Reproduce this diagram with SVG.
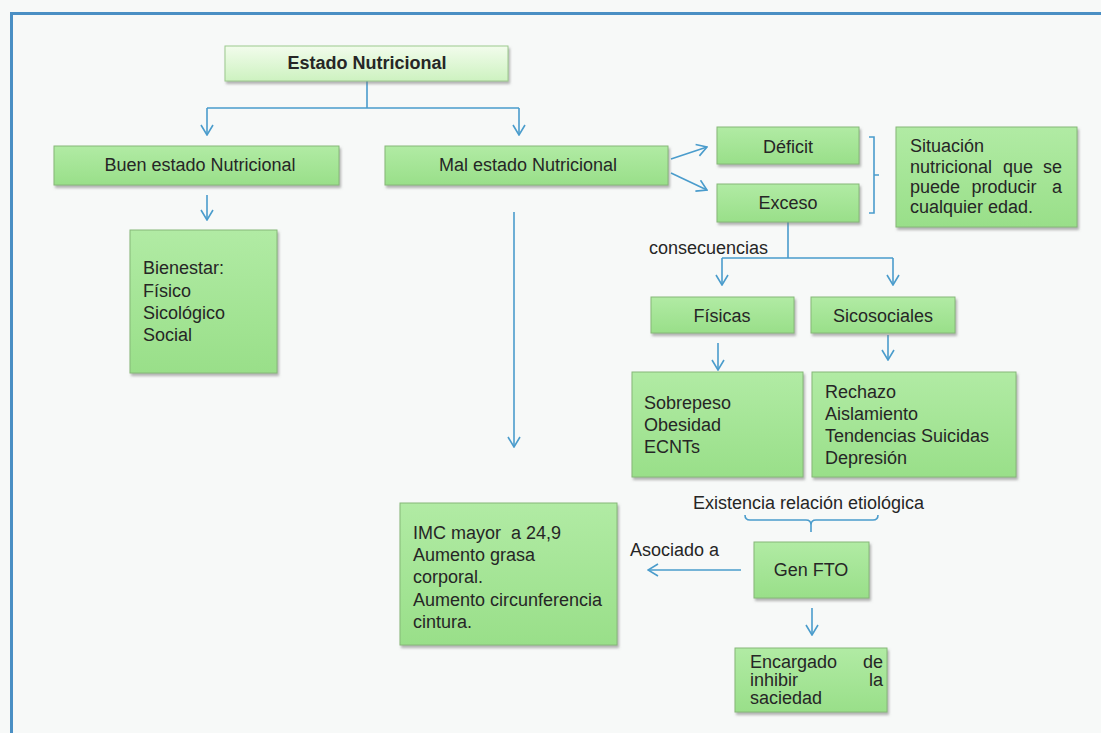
<svg xmlns="http://www.w3.org/2000/svg" width="1101" height="733" viewBox="0 0 1101 733">
<style>
  text { font-family: "Liberation Sans", Arial, sans-serif; font-size: 18px; fill: #262626; white-space: pre; }
  .c { text-anchor: middle; }
  .e { text-anchor: end; }
  .b { font-weight: bold; }
  .box { fill: url(#g); stroke: #86b878; stroke-width: 1; filter: url(#sh); }
  .top { fill: url(#g2); stroke: #9cc98e; stroke-width: 1; filter: url(#sh); }
  .ln { fill: none; stroke: #4a9ccc; stroke-width: 1.6; }
  .ar { marker-end: url(#v); }
</style>
<defs>
  <linearGradient id="g" x1="0" y1="0" x2="0" y2="1">
    <stop offset="0" stop-color="#b1eba4"/>
    <stop offset="1" stop-color="#99df89"/>
  </linearGradient>
  <linearGradient id="g2" x1="0" y1="0" x2="0" y2="1">
    <stop offset="0" stop-color="#f2fcec"/>
    <stop offset="1" stop-color="#cdf2c0"/>
  </linearGradient>
  <filter id="sh" x="-10%" y="-10%" width="120%" height="130%">
    <feDropShadow dx="1.5" dy="2.5" stdDeviation="1.2" flood-color="#777" flood-opacity="0.55"/>
  </filter>
  <marker id="v" viewBox="0 0 12 14" refX="11" refY="7" markerWidth="12" markerHeight="14" markerUnits="userSpaceOnUse" orient="auto">
    <path d="M1,1 L11,7 L1,13" fill="none" stroke="#4a9ccc" stroke-width="1.6"/>
  </marker>
</defs>
<rect width="1101" height="733" fill="#f7f9f8"/>
<rect x="11.5" y="13.5" width="1100" height="730" fill="none" stroke="#4a8fc4" stroke-width="3"/>

<g id="connectors">
  <path class="ln" d="M367,81 V108 M207,108 H519"/>
  <path class="ln ar" d="M207,108 V135"/>
  <path class="ln ar" d="M519,108 V135"/>
  <path class="ln ar" d="M207,195 V220"/>
  <path class="ln ar" d="M514,212 V447"/>
  <path class="ln ar" d="M671,159 L707,147"/>
  <path class="ln ar" d="M671,173 L707,190"/>
  <path class="ln" d="M869,137 H874 V213 H869 M874,175 H879" stroke-width="1.2"/>
  <path class="ln" d="M788,222 V258 M722,258 H893"/>
  <path class="ln ar" d="M722,258 V285"/>
  <path class="ln ar" d="M893,258 V285"/>
  <path class="ln ar" d="M718,343 V370"/>
  <path class="ln ar" d="M888,335 V360"/>
  <path class="ln" d="M745,515 Q745,520 750,520 H806 Q811,520 811,525 V532 M811,525 Q811,520 816,520 H873 Q878,520 878,515" stroke-width="1.2"/>
  <path class="ln ar" d="M741,570 H648"/>
  <path class="ln ar" d="M812,608 V635"/>
</g>

<g id="estado">
  <rect class="top" x="225" y="46" width="283" height="35"/>
  <text class="c b" x="367" y="69">Estado Nutricional</text>
</g>
<g id="buen">
  <rect class="box" x="54" y="146" width="285" height="39"/>
  <text class="c" x="200" y="171">Buen estado Nutricional</text>
</g>
<g id="mal">
  <rect class="box" x="385" y="146" width="283" height="39"/>
  <text class="c" x="528" y="171">Mal estado Nutricional</text>
</g>
<g id="bienestar">
  <rect class="box" x="130" y="230" width="147" height="143"/>
  <text x="143" y="274">Bienestar:</text>
  <text x="143" y="297">Físico</text>
  <text x="143" y="319">Sicológico</text>
  <text x="143" y="341">Social</text>
</g>
<g id="deficit">
  <rect class="box" x="717" y="127" width="142" height="37"/>
  <text class="c" x="788" y="153">Déficit</text>
</g>
<g id="exceso">
  <rect class="box" x="717" y="184" width="142" height="38"/>
  <text class="c" x="788" y="209">Exceso</text>
</g>
<g id="situacion">
  <rect class="box" x="896" y="127" width="181" height="100"/>
  <text x="910" y="152">Situación</text>
  <text x="910" y="173">nutricional</text>
  <text class="c" x="1018" y="173">que</text>
  <text class="e" x="1062" y="173">se</text>
  <text x="910" y="193">puede</text>
  <text class="c" x="1004" y="193">producir</text>
  <text class="e" x="1062" y="193">a</text>
  <text x="910" y="213">cualquier edad.</text>
</g>
<g id="consecuencias">
  <text x="649" y="254">consecuencias</text>
</g>
<g id="fisicas">
  <rect class="box" x="651" y="297" width="143" height="36"/>
  <text class="c" x="722" y="322">Físicas</text>
</g>
<g id="sicosociales">
  <rect class="box" x="811" y="297" width="144" height="36"/>
  <text class="c" x="883" y="322">Sicosociales</text>
</g>
<g id="sobrepeso">
  <rect class="box" x="632" y="372" width="171" height="105"/>
  <text x="644" y="409">Sobrepeso</text>
  <text x="644" y="431">Obesidad</text>
  <text x="644" y="453">ECNTs</text>
</g>
<g id="rechazo">
  <rect class="box" x="812" y="372" width="204" height="105"/>
  <text x="825" y="398">Rechazo</text>
  <text x="825" y="420">Aislamiento</text>
  <text x="825" y="442">Tendencias Suicidas</text>
  <text x="825" y="464">Depresión</text>
</g>
<g id="existencia">
  <text x="693" y="509">Existencia relación etiológica</text>
</g>
<g id="imc">
  <rect class="box" x="400" y="503" width="217" height="142"/>
  <text x="413" y="539">IMC mayor  a 24,9</text>
  <text x="413" y="561">Aumento grasa</text>
  <text x="413" y="583">corporal.</text>
  <text x="413" y="606">Aumento circunferencia</text>
  <text x="413" y="628">cintura.</text>
</g>
<g id="asociado">
  <text x="630" y="556">Asociado a</text>
</g>
<g id="genfto">
  <rect class="box" x="754" y="542" width="115" height="56"/>
  <text class="c" x="811" y="576">Gen FTO</text>
</g>
<g id="encargado">
  <rect class="box" x="735" y="648" width="152" height="64"/>
  <text x="750" y="668">Encargado</text>
  <text class="e" x="883" y="668">de</text>
  <text x="750" y="686">inhibir</text>
  <text class="e" x="883" y="686">la</text>
  <text x="750" y="704">saciedad</text>
</g>
</svg>
